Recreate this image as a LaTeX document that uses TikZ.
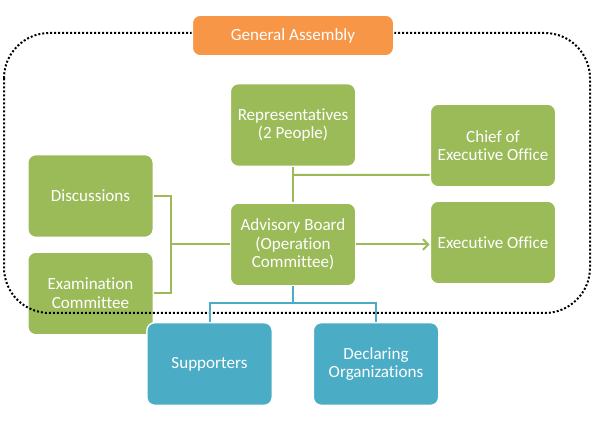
\documentclass[tikz,border=0pt]{standalone}
\usepackage{fontspec}
\setmainfont{Carlito}[Ligatures=NoCommon]
\usepackage{xcolor}
\usepackage{tikz}
\usetikzlibrary{calc, arrows.meta, positioning}

\definecolor{boxgreen}{HTML}{9BBB59}
\definecolor{boxblue}{HTML}{4BACC6}
\definecolor{boxorange}{HTML}{F79646}

\tikzset{
    box/.style={draw=white, line width=1pt, rounded corners=6pt, text=white,
        align=center, minimum width=94pt, minimum height=62pt,
        font=\fontsize{12.8}{14}\selectfont},
    greenbox/.style={box, fill=boxgreen},
    bluebox/.style={box, fill=boxblue},
    orangebox/.style={box, fill=boxorange, minimum width=151pt, minimum height=30.5pt},
    greenline/.style={draw=boxgreen, line width=1.5pt},
    blueline/.style={draw=boxblue, line width=1.5pt}
}

\begin{document}
\begin{tikzpicture}[x=0.75pt, y=-0.75pt, >={Straight Barb[length=4pt, width=8pt]}]
    \useasboundingbox (0,0) rectangle (594,423);

    % 1. Các hộp màu xanh lá
    \node[greenbox] (rep) at (293,125) {Representatives\\(2 People)};
    \node[greenbox] (chief) at (493,145.5) {Chief of\\Executive Office};
    \node[greenbox] (exec) at (493,242.5) {Executive Office};
    \node[greenbox] (adv) at (293,244.5) {Advisory Board\\(Operation\\Committee)};
    \node[greenbox] (disc) at (90.5,196) {Discussions};
    \node[greenbox] (exam) at (90.5,293.5) {Examination\\Committee};

    % 2. Khung chấm và General Assembly
    \draw[line width=1.5pt, dash pattern=on 1.5pt off 1.5pt, rounded corners=34pt]
        (4,33) rectangle (590,313);
    \node[orangebox] (ga) at (293,35.5) {General Assembly};

    % 3. Các đường nối
    \draw[greenline] (disc.east) -- ++(17,0) coordinate (br) |- (exam.east);
    \draw[greenline] (br |- adv.west) -- (adv.west);
    \draw[greenline] (rep.south) -- (adv.north);
    \draw[greenline] (rep.south |- chief.west) ++(0,29.5) -- ([yshift=-22pt]chief.west);
    \draw[greenline, ->] (adv.east) -- (adv.east -| exec.west);
    \draw[blueline] (adv.south) -- ++(0,17) coordinate (fork);

    % 4. Các hộp màu xanh dương
    \node[bluebox] (supp) at (209.5,364) {Supporters};
    \node[bluebox] (decl) at (376,364) {Declaring\\Organizations};
    \draw[blueline] (supp.north) |- (fork) -| (decl.north);
\end{tikzpicture}
\end{document}
